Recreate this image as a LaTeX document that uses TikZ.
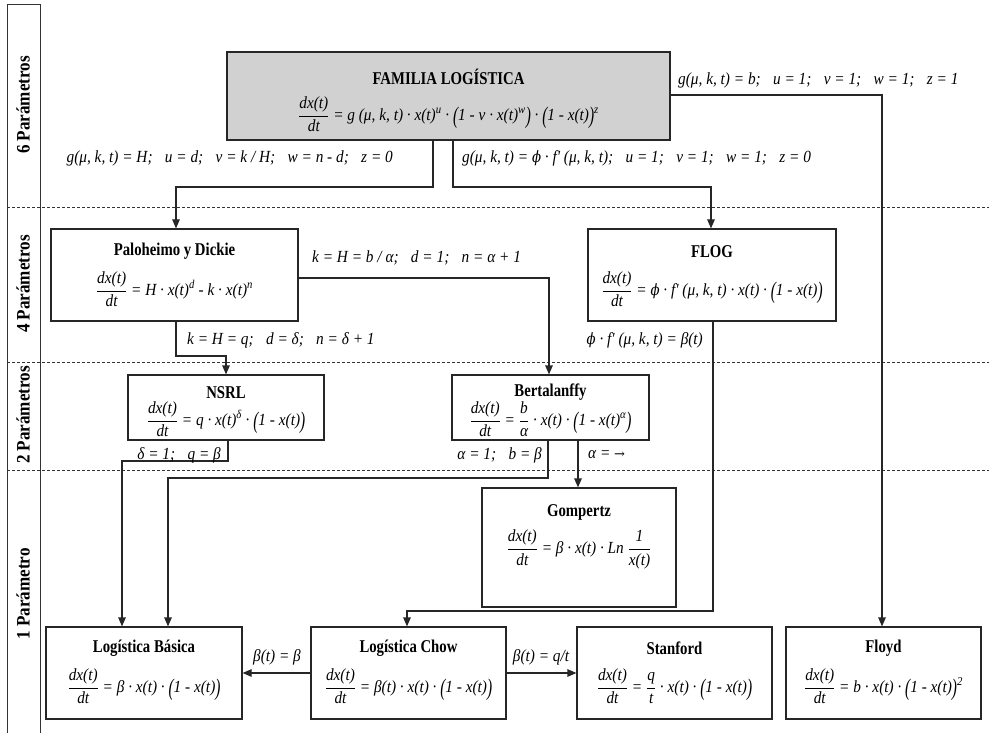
\documentclass[tikz,border=0pt]{standalone}
\usepackage{amsmath}
\usepackage{fontspec}
\setmainfont{Liberation Serif}[FakeStretch=0.82]
\newfontfamily\eqfam{Liberation Serif}[FakeStretch=0.9]
\newfontfamily\lanefam{Liberation Serif}[FakeStretch=0.9]
\newfontfamily\phifam{DejaVu Serif}[FakeStretch=0.85,Scale=0.92]
\newfontfamily\symfont{DejaVu Serif}
\usetikzlibrary{arrows.meta}
\newcommand\fr[2]{\ensuremath{\genfrac{}{}{0.6pt}{0}{\hbox{\itshape #1}}{\hbox{\itshape #2}}}}
\newcommand\su[1]{\textsuperscript{\itshape #1}}
\newcommand\lp{\raisebox{-0.17em}{\scalebox{1}[1.4]{(}}}
\newcommand\rp{\raisebox{-0.17em}{\scalebox{1}[1.4]{)}}}
\newcommand\dxdt{\fr{dx(t)}{dt}}
\newcommand\vphi{{\phifam\itshape ϕ}}
\begin{document}
\begin{tikzpicture}[x=1pt,y=-1pt,
  box/.style={draw=black!85, line width=1.2pt, fill=white, inner sep=0pt},
  ttl/.style={font=\fontsize{18}{20}\selectfont\bfseries, inner sep=0pt},
  eqn/.style={font=\eqfam\fontsize{17}{19}\selectfont\itshape, inner sep=0pt},
  lab/.style={font=\eqfam\fontsize{17}{19}\selectfont\itshape, inner sep=0pt},
  lane/.style={font=\lanefam\fontsize{19}{21}\selectfont\bfseries, rotate=90, inner sep=0pt},
  conn/.style={draw=black!85, line width=1.2pt},
  arr/.style={conn, -{Triangle[length=9pt,width=7.5pt]}},
  sep/.style={draw=black!80, line width=0.9pt, dash pattern=on 3pt off 2pt},
  frame/.style={draw=black!80, line width=1pt}]
\useasboundingbox (0,0) rectangle (989,733);
% frame and lanes
\draw[frame] (7,733) -- (7,5) -- (40,5) -- (40,733);
\draw[sep] (7,207) -- (989,207);
\draw[sep] (7,362) -- (989,362);
\draw[sep] (7,470) -- (989,470);
\node[lane] (l6) at (23,105) {6 Parámetros};
\node[lane] (l4) at (23,284) {4 Parámetros};
\node[lane] (l2) at (23,415) {2 Parámetros};
\node[lane] (l1) at (23,594) {1 Parámetro};
% boxes
\node[box, fill=black!18, minimum width=443pt, minimum height=88pt] (top) at (448.5,96) {};
\node[ttl] (topT) at ([yshift=-25pt]top.north) {FAMILIA LOGÍSTICA};
\node[eqn] (topE) at ([yshift=-63pt]top.north)
  {\dxdt{} = g (μ, k, t) · x(t)\su{u} · \lp1 - v · x(t)\su{w}\rp{} · \lp1 - x(t)\rp\su{z}};
\node[box, minimum width=247pt, minimum height=92pt] (pal) at (174.5,275) {};
\node[ttl] (palT) at ([yshift=-23pt]pal.north) {Paloheimo y Dickie};
\node[eqn] (palE) at ([yshift=-61pt]pal.north) {\dxdt{} = H · x(t)\su{d} - k · x(t)\su{n}};
\node[box, minimum width=248pt, minimum height=92pt] (flog) at (712,275) {};
\node[ttl] (flogT) at ([yshift=-23pt]flog.north) {FLOG};
\node[eqn] (flogE) at ([yshift=-61pt]flog.north) {\dxdt{} = \vphi{} · f' (μ, k, t) · x(t) · \lp1 - x(t)\rp};
\node[box, minimum width=196pt, minimum height=65pt] (nsrl) at (226,407.5) {};
\node[ttl] (nsrlT) at ([yshift=-18pt]nsrl.north) {NSRL};
\node[eqn] (nsrlE) at ([yshift=-45pt]nsrl.north) {\dxdt{} = q · x(t)\su{δ} · \lp1 - x(t)\rp};
\node[box, minimum width=197pt, minimum height=65pt] (bert) at (550.5,407.5) {};
\node[ttl] (bertT) at ([yshift=-18pt]bert.north) {Bertalanffy};
\node[eqn] (bertE) at ([yshift=-45pt]bert.north) {\dxdt{} = \fr{b}{α} · x(t) · \lp1 - x(t)\su{α}\rp};
\node[box, minimum width=194pt, minimum height=119pt] (gomp) at (579,547.5) {};
\node[ttl] (gompT) at ([yshift=-25pt]gomp.north) {Gompertz};
\node[eqn] (gompE) at ([yshift=-62pt]gomp.north) {\dxdt{} = β · x(t) · Ln \fr{1}{x(t)}};
\node[box, minimum width=196pt, minimum height=92pt] (basica) at (144,673) {};
\node[ttl] (basicaT) at ([yshift=-22pt]basica.north) {Logística Básica};
\node[eqn] (basicaE) at ([yshift=-60pt]basica.north) {\dxdt{} = β · x(t) · \lp1 - x(t)\rp};
\node[box, minimum width=195pt, minimum height=92pt] (chow) at (408.5,673) {};
\node[ttl] (chowT) at ([yshift=-22pt]chow.north) {Logística Chow};
\node[eqn] (chowE) at ([yshift=-60pt]chow.north) {\dxdt{} = β(t) · x(t) · \lp1 - x(t)\rp};
\node[box, minimum width=195pt, minimum height=92pt] (stan) at (674.5,673) {};
\node[ttl] (stanT) at ([yshift=-22pt]stan.north) {Stanford};
\node[eqn] (stanE) at ([yshift=-60pt]stan.north) {\dxdt{} = \fr{q}{t} · x(t) · \lp1 - x(t)\rp};
\node[box, minimum width=195pt, minimum height=92pt] (floyd) at (883.5,673) {};
\node[ttl] (floydT) at ([yshift=-22pt]floyd.north) {Floyd};
\node[eqn] (floydE) at ([yshift=-60pt]floyd.north) {\dxdt{} = b · x(t) · \lp1 - x(t)\rp\su{2}};
% connector corner points
\coordinate (a1) at (433,187); \coordinate (a2) at (176,187);
\coordinate (b1) at (453,187); \coordinate (b2) at (711,187);
\coordinate (f1) at (882,95);
\coordinate (p1) at (549,278);
\coordinate (q1) at (176,356); \coordinate (q2) at (226,356);
\coordinate (r1) at (228,461); \coordinate (r2) at (122,461);
\coordinate (s1) at (548,478); \coordinate (s2) at (168,478);
\coordinate (g1) at (578,450);
\coordinate (h1) at (713,611); \coordinate (h2) at (407,611);
% connectors
\draw[arr] (a1 |- top.south) -- (a1) -- (a2) -- (a2 |- pal.north);
\draw[arr] (b1 |- top.south) -- (b1) -- (b2) -- (b2 |- flog.north);
\draw[arr] (f1 -| top.east) -- (f1) -- (f1 |- floyd.north);
\draw[arr] (p1 -| pal.east) -- (p1) -- (p1 |- bert.north);
\draw[arr] (q1 |- pal.south) -- (q1) -- (q2) -- (q2 |- nsrl.north);
\draw[arr] (r1 |- nsrl.south) -- (r1) -- (r2) -- (r2 |- basica.north);
\draw[arr] (s1 |- bert.south) -- (s1) -- (s2) -- (s2 |- basica.north);
\draw[arr] (g1 |- bert.south) -- (g1 |- gomp.north);
\draw[arr] (h1 |- flog.south) -- (h1) -- (h2) -- (h2 |- chow.north);
\draw[arr] (chow.west) -- (basica.east);
\draw[arr] (chow.east) -- (stan.west);
% labels
\node[lab, anchor=east] (t1) at (393,158) {g(μ, k, t) = H; \enspace u = d; \enspace v = k / H; \enspace w = n - d; \enspace z = 0};
\node[lab, anchor=west] (t2) at (462,158) {g(μ, k, t) = \vphi{} · f' (μ, k, t); \enspace u = 1; \enspace v = 1; \enspace w = 1; \enspace z = 0};
\node[lab, anchor=west] (t3) at (678,80) {g(μ, k, t) = b; \enspace u = 1; \enspace v = 1; \enspace w = 1; \enspace z = 1};
\node[lab, anchor=west] (t4) at (312,258) {k = H = b / α; \enspace d = 1; \enspace n = α + 1};
\node[lab, anchor=west] (t5) at (187,340) {k = H = q; \enspace d = δ; \enspace n = δ + 1};
\node[lab, anchor=east] (t6) at (703,340) {\vphi{} · f' (μ, k, t) = β(t)};
\node[lab, anchor=east] (t7) at (221,455) {δ = 1; \enspace q = β};
\node[lab, anchor=east] (t8) at (542,455) {α = 1; \enspace b = β};
\node[lab, anchor=west] (t9) at (588,455) {α = {\symfont\fontsize{13}{15}\selectfont →}};
\node[lab] (t10) at (277,657) {β(t) = β};
\node[lab] (t11) at (541,657) {β(t) = q/t};
\end{tikzpicture}
\end{document}
